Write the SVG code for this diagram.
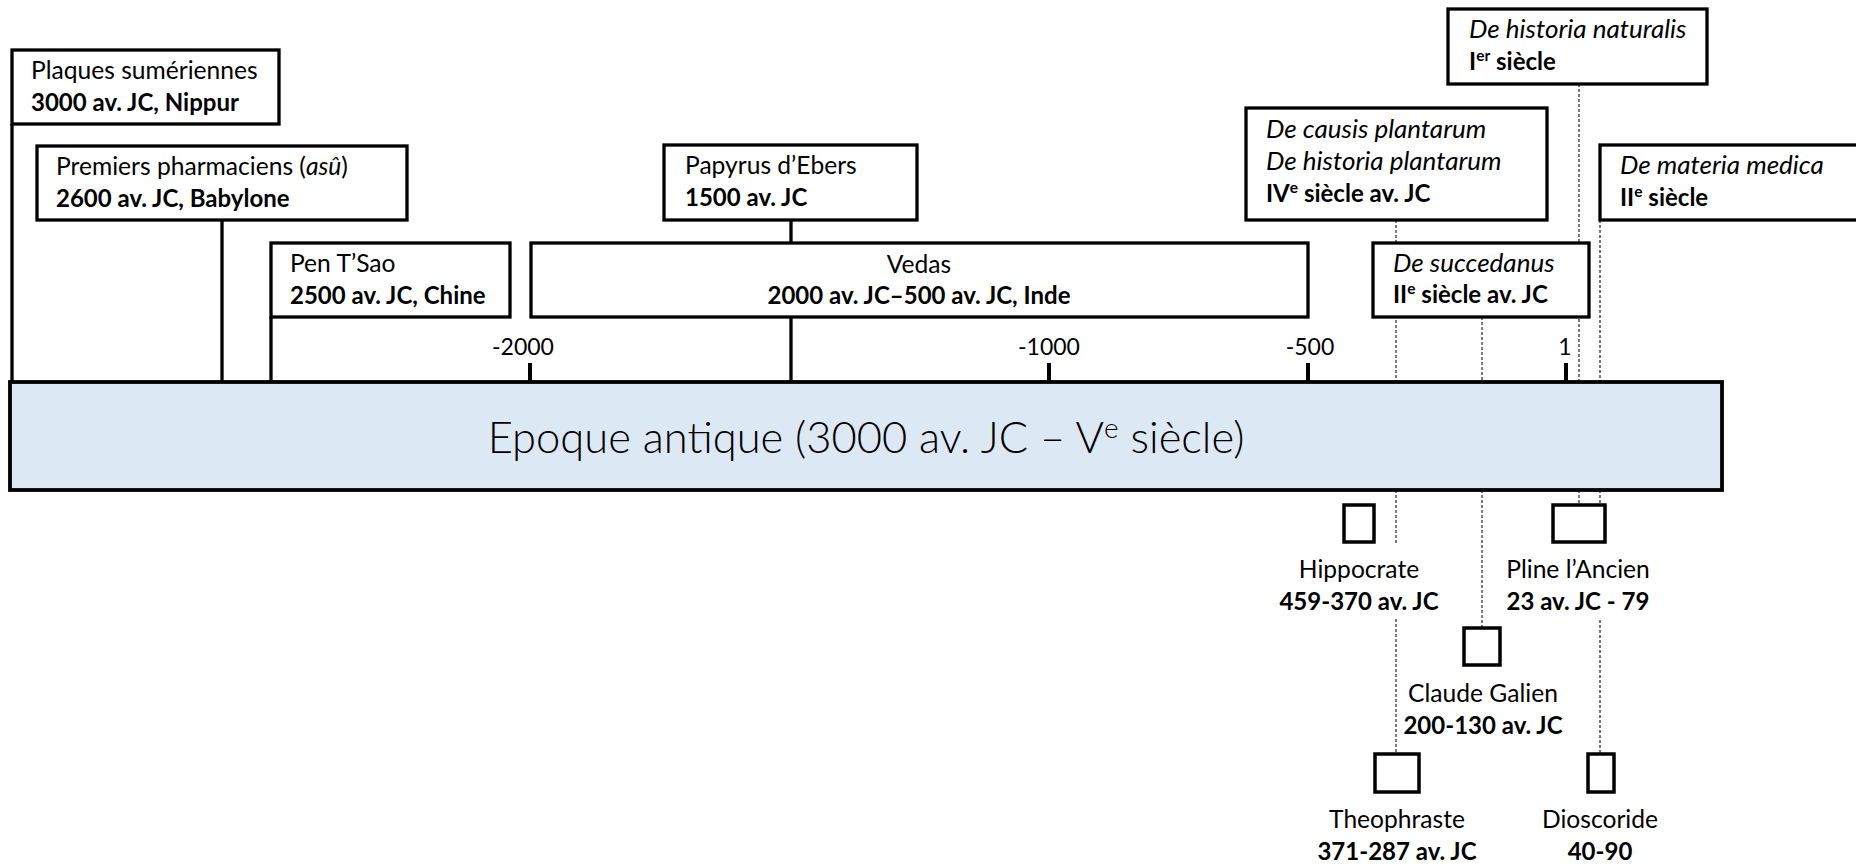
<svg xmlns="http://www.w3.org/2000/svg" width="1856" height="865" viewBox="0 0 1856 865">
  <style>
    text { font-family: Lato, "Noto Sans", sans-serif; font-size: 24.6px; fill: #000; }
    .b { font-weight: bold; font-size: 24px; }
    .i { font-style: italic; font-size: 26px; }
    .num { font-size: 23px; }
    .mid { text-anchor: middle; }
    .box { fill: #fff; stroke: #000; stroke-width: 3.3; }
    .mark { fill: #fff; stroke: #000; stroke-width: 3.5; }
    .solid { stroke: #000; stroke-width: 3.3; fill: none; }
    .tick { stroke: #000; stroke-width: 4; }
    .dash { stroke: #222; stroke-width: 1.2; stroke-dasharray: 3 2; fill: none; }
    .bar { fill: #DDE8F5; stroke: #000; stroke-width: 3.8; }
    .title { font-size: 43.5px; font-weight: 300; }
  </style>

  <!-- connectors -->
  <g id="connectors">
    <line class="solid" x1="12" y1="124" x2="12" y2="382"/>
    <line class="solid" x1="222" y1="220" x2="222" y2="382"/>
    <line class="solid" x1="271" y1="317" x2="271" y2="382"/>
    <line class="solid" x1="791" y1="220" x2="791" y2="243"/>
    <line class="solid" x1="791" y1="317" x2="791" y2="382"/>
    <!-- De causis / Theophraste -->
    <line class="dash" x1="1396" y1="220" x2="1396" y2="382"/>
    <line class="dash" x1="1396" y1="490" x2="1396" y2="543"/>
    <line class="dash" x1="1396" y1="619" x2="1396" y2="753"/>
    <!-- De succedanus / Galien -->
    <line class="dash" x1="1482" y1="317" x2="1482" y2="382"/>
    <line class="dash" x1="1482" y1="490" x2="1482" y2="627"/>
    <!-- De historia naturalis / Pline -->
    <line class="dash" x1="1579" y1="84" x2="1579" y2="382"/>
    <line class="dash" x1="1579" y1="490" x2="1579" y2="505"/>
    <!-- De materia medica / Dioscoride -->
    <line class="dash" x1="1600" y1="220" x2="1600" y2="382"/>
    <line class="dash" x1="1600" y1="490" x2="1600" y2="505"/>
    <line class="dash" x1="1600" y1="620" x2="1600" y2="753"/>
  </g>

  <!-- timeline axis -->
  <g id="axis">
    <line class="tick" x1="530" y1="363" x2="530" y2="382"/>
    <line class="tick" x1="1049" y1="363" x2="1049" y2="382"/>
    <line class="tick" x1="1308" y1="363" x2="1308" y2="382"/>
    <line class="tick" x1="1566" y1="363" x2="1566" y2="382"/>
    <text class="num mid" x="523" y="355">-2000</text>
    <text class="num mid" x="1049" y="355">-1000</text>
    <text class="num mid" x="1310" y="355">-500</text>
    <text class="num mid" x="1565" y="355">1</text>
  </g>

  <g id="epoque">
    <rect class="bar" x="10" y="382" width="1712" height="108"/>
    <text class="title mid" x="866" y="453">Epoque antique (3000 av. JC – V<tspan font-size="28" dy="-15">e</tspan><tspan dy="15"> siècle)</tspan></text>
  </g>

  <!-- upper nodes -->
  <g id="plaques">
    <rect class="box" x="12" y="50" width="267" height="74"/>
    <text x="31" y="79">Plaques sumériennes</text>
    <text class="b" x="31" y="111">3000 av. JC, Nippur</text>
  </g>
  <g id="premiers">
    <rect class="box" x="37" y="146" width="370" height="74"/>
    <text x="56" y="175">Premiers pharmaciens (<tspan font-style="italic">asû</tspan>)</text>
    <text class="b" x="56" y="207">2600 av. JC, Babylone</text>
  </g>
  <g id="pentsao">
    <rect class="box" x="271" y="243" width="239" height="74"/>
    <text x="290" y="272">Pen T’Sao</text>
    <text class="b" x="290" y="304">2500 av. JC, Chine</text>
  </g>
  <g id="papyrus">
    <rect class="box" x="664" y="145" width="253" height="75"/>
    <text x="685" y="174">Papyrus d’Ebers</text>
    <text class="b" x="685" y="206">1500 av. JC</text>
  </g>
  <g id="vedas">
    <rect class="box" x="531" y="243" width="777" height="74"/>
    <text class="mid" x="919" y="273">Vedas</text>
    <text class="b mid" x="919" y="304">2000 av. JC–500 av. JC, Inde</text>
  </g>
  <g id="causis">
    <rect class="box" x="1246" y="108" width="301" height="112"/>
    <text class="i" x="1266" y="138">De causis plantarum</text>
    <text class="i" x="1266" y="170">De historia plantarum</text>
    <text class="b" x="1266" y="202">IV<tspan font-size="15.5" dy="-9">e</tspan><tspan dy="9"> siècle av. JC</tspan></text>
  </g>
  <g id="naturalis">
    <rect class="box" x="1448" y="9" width="259" height="75"/>
    <text class="i" x="1469" y="38">De historia naturalis</text>
    <text class="b" x="1469" y="70">I<tspan font-size="15.5" dy="-9">er</tspan><tspan dy="9"> siècle</tspan></text>
  </g>
  <g id="succedanus">
    <rect class="box" x="1373" y="243" width="216" height="74"/>
    <text class="i" x="1393" y="272">De succedanus</text>
    <text class="b" x="1393" y="303">II<tspan font-size="15.5" dy="-9">e</tspan><tspan dy="9"> siècle av. JC</tspan></text>
  </g>
  <g id="materia">
    <rect class="box" x="1600" y="145" width="280" height="75"/>
    <text class="i" x="1620" y="174">De materia medica</text>
    <text class="b" x="1620" y="206">II<tspan font-size="15.5" dy="-9">e</tspan><tspan dy="9"> siècle</tspan></text>
  </g>

  <!-- people -->
  <g id="hippocrate">
    <rect class="mark" x="1344" y="505" width="30" height="37"/>
    <text class="mid" x="1359" y="578">Hippocrate</text>
    <text class="b mid" x="1359" y="610">459-370 av. JC</text>
  </g>
  <g id="pline">
    <rect class="mark" x="1553" y="505" width="52" height="37"/>
    <text class="mid" x="1578" y="578">Pline l’Ancien</text>
    <text class="b mid" x="1578" y="610">23 av. JC - 79</text>
  </g>
  <g id="galien">
    <rect class="mark" x="1464" y="628" width="36" height="37"/>
    <text class="mid" x="1483" y="702">Claude Galien</text>
    <text class="b mid" x="1483" y="734">200-130 av. JC</text>
  </g>
  <g id="theophraste">
    <rect class="mark" x="1375" y="754" width="44" height="38"/>
    <text class="mid" x="1397" y="828">Theophraste</text>
    <text class="b mid" x="1397" y="860">371-287 av. JC</text>
  </g>
  <g id="dioscoride">
    <rect class="mark" x="1588" y="754" width="26" height="38"/>
    <text class="mid" x="1600" y="828">Dioscoride</text>
    <text class="b mid" x="1600" y="860">40-90</text>
  </g>
</svg>
